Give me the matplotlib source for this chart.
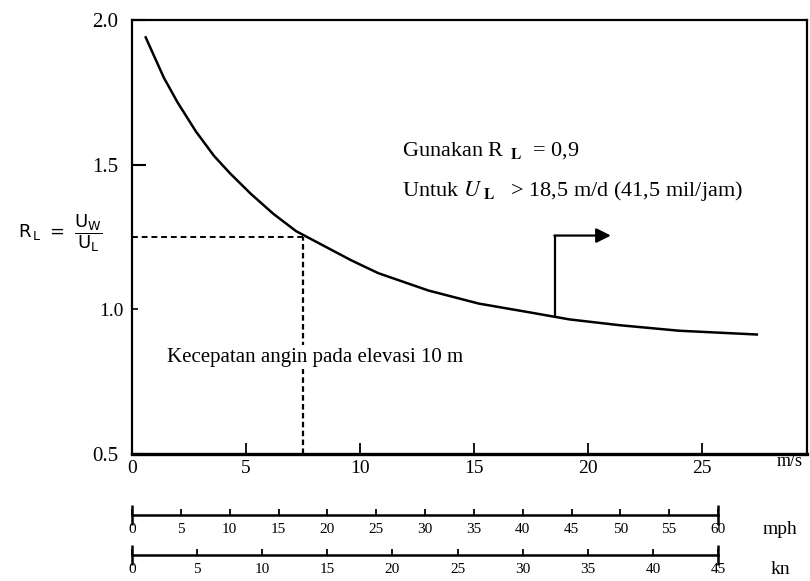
import matplotlib
matplotlib.use("Agg")
import matplotlib.pyplot as plt

plt.rcParams["font.family"] = ["Liberation Serif", "DejaVu Serif"]
plt.rcParams["mathtext.fontset"] = "stix"

# kurva R_L terhadap kecepatan angin (m/s)
kec_ms = [0.6, 1.4, 2.0, 2.8, 3.6, 4.3, 5.2, 6.2, 7.2, 8.4, 9.6, 10.8, 13.0,
          15.2, 17.4, 19.2, 21.4, 24.0, 27.4]
rasio_RL = [1.94, 1.80, 1.715, 1.615, 1.53, 1.47, 1.40, 1.33, 1.27, 1.22, 1.17,
            1.125, 1.065, 1.02, 0.99, 0.965, 0.945, 0.926, 0.913]

titik_baca = (7.5, 1.25)          # garis putus-putus
panah_x, panah_y0, panah_y1, panah_x1 = 18.55, 0.976, 1.255, 21.0

tick_ms = [0, 5, 10, 15, 20, 25]
tick_mph = [0, 5, 10, 15, 20, 25, 30, 35, 40, 45, 50, 55, 60]
tick_kn = [0, 5, 10, 15, 20, 25, 30, 35, 40, 45]

W, H = 810, 581
fig = plt.figure(figsize=(W / 100, H / 100), dpi=100)


def kotak(x0, y0, x1, y1):
    # piksel (dari kiri-atas) -> koordinat figure
    return [x0 / W, 1 - y1 / H, (x1 - x0) / W, (y1 - y0) / H]


ax = fig.add_axes(kotak(132, 20, 807, 454))
ax.plot(kec_ms, rasio_RL, color="black", lw=1.8, solid_joinstyle="round")
ax.set_xlim(0, 29.6)
ax.set_ylim(0.5, 2.0)
for s in ax.spines.values():
    s.set_linewidth(1.6)
ax.spines["bottom"].set_linewidth(2.4)

ax.set_xticks(tick_ms)
ax.set_xticklabels([str(t) for t in tick_ms])
ax.set_yticks([0.5, 1.5, 2.0])
ax.set_yticks([1.0], minor=True)
ax.set_yticklabels(["0.5", "1.5", "2.0"])
ax.set_yticklabels(["1.0"], minor=True)
ax.tick_params(axis="x", direction="in", length=8, width=1.3, labelsize=14, pad=4)
ax.tick_params(axis="y", which="major", direction="in", length=10, width=1.5,
               labelsize=15, pad=10)
ax.tick_params(axis="y", which="minor", direction="in", length=4, width=1.2,
               labelsize=14, pad=6)

# garis bantu putus-putus
ax.plot([0, titik_baca[0]], [titik_baca[1], titik_baca[1]], color="black",
        lw=1.4, ls=(0, (3, 2)))
ax.plot([titik_baca[0], titik_baca[0]], [0.5, titik_baca[1]], color="black",
        lw=1.6, ls=(0, (2.5, 1.5)))

ax.text(1.55, 0.835, "Kecepatan angin pada elevasi 10 m", fontsize=15,
        va="center", ha="left",
        bbox=dict(facecolor="white", edgecolor="none", pad=2))

# panah
ax.plot([panah_x, panah_x], [panah_y0, panah_y1], color="black", lw=1.6)
ax.annotate("", xy=(panah_x1, panah_y1), xytext=(panah_x - 0.03, panah_y1),
            arrowprops=dict(arrowstyle="-|>", color="black", lw=1.6,
                            mutation_scale=22, shrinkA=0, shrinkB=0))

ax.text(11.85, 1.55, r"Gunakan R$_{\ \ \mathbf{L}}\ \ $= 0,9", fontsize=16,
        va="center", ha="left")
ax.text(11.85, 1.41,
        r"Untuk $U_{\ \mathbf{L}}\ \ \ $> 18,5 m/d (41,5 mil/jam)",
        fontsize=16, va="center", ha="left")

fig.text(790 / W, 1 - 462 / H, "m/s", fontsize=13, ha="center", va="center")

# label sumbu y
fig.text(60 / W, 1 - 233 / H, r"$\mathrm{R_{\,L}\ =\ \dfrac{U_{W}}{U_{L}}}$",
         fontsize=13, ha="center", va="center", math_fontfamily="dejavusans")


def skala(y_px, ticks, satuan):
    a = fig.add_axes(kotak(132, y_px - 20, 718, y_px))
    a.set_xlim(ticks[0], ticks[-1])
    a.set_ylim(0, 1)
    a.patch.set_alpha(0)
    for k in ("top", "left", "right"):
        a.spines[k].set_visible(False)
    a.spines["bottom"].set_linewidth(1.8)
    a.set_yticks([])
    a.set_xticks(ticks)
    a.set_xticklabels([str(t) for t in ticks])
    a.tick_params(axis="x", direction="in", length=4, width=1.3,
                  labelsize=11, pad=6)
    a.plot([ticks[0], ticks[-1]], [0, 0], ls="none", marker="|", ms=14,
           mew=1.8, color="black", clip_on=False)
    fig.text(780 / W, 1 - (y_px + 14) / H, satuan, fontsize=14,
             ha="center", va="center")
    return a


skala(515, tick_mph, "mph")
skala(555, tick_kn, "kn")

fig.savefig("out.png", dpi=100, facecolor="white")
